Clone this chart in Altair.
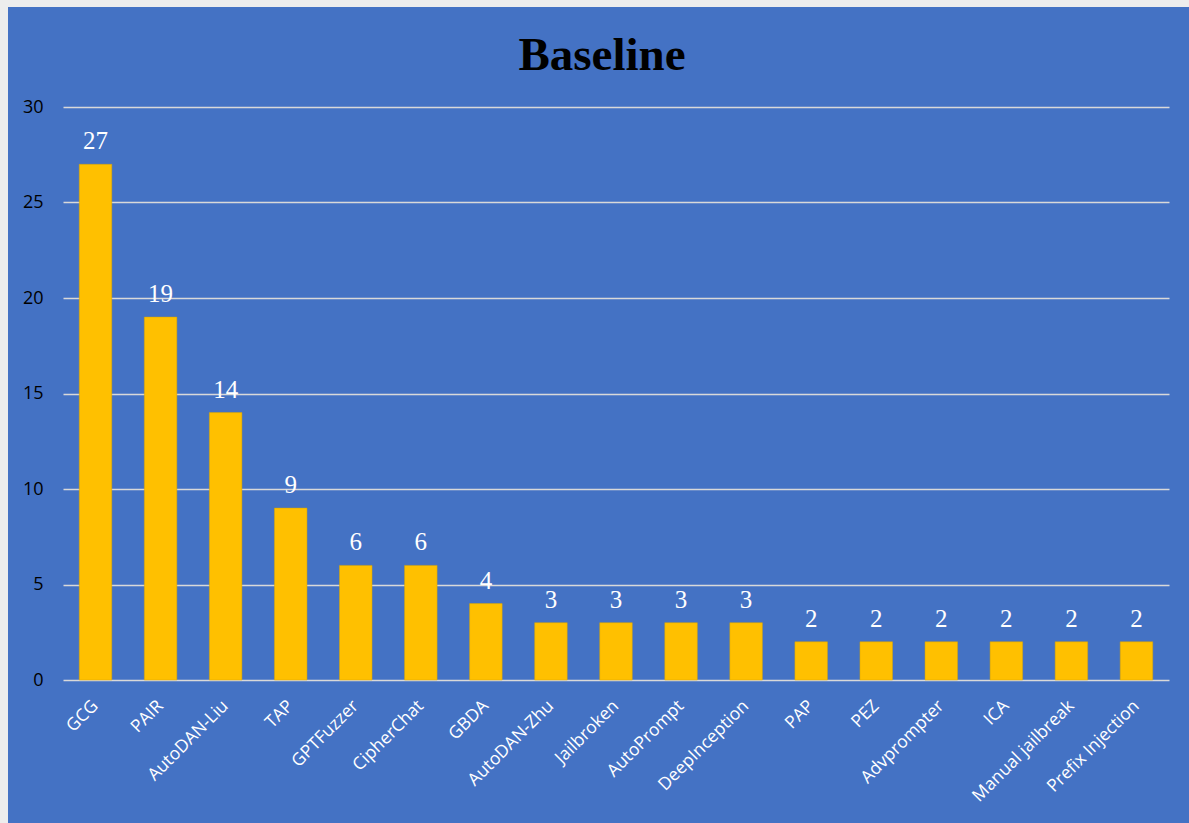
import altair as alt
import pandas as pd

methods = ["GCG", "PAIR", "AutoDAN-Liu", "TAP", "GPTFuzzer", "CipherChat", "GBDA",
           "AutoDAN-Zhu", "Jailbroken", "AutoPrompt", "DeepInception", "PAP", "PEZ",
           "Advprompter", "ICA", "Manual jailbreak", "Prefix Injection"]
counts = [27, 19, 14, 9, 6, 6, 4, 3, 3, 3, 3, 2, 2, 2, 2, 2, 2]

df = pd.DataFrame({"method": methods, "count": counts})

x = alt.X("method:N", sort=methods, title=None,
          scale=alt.Scale(paddingInner=0.5, paddingOuter=0.25),
          axis=alt.Axis(labelAngle=-45, labelColor="white", labelFont="Open Sans",
                        labelFontSize=17.5, ticks=False, domain=False, labelPadding=23,
                        labelAlign="right", labelBaseline="middle"))
y = alt.Y("count:Q", title=None,
          scale=alt.Scale(domain=[0, 30], nice=False),
          axis=alt.Axis(values=[0, 5, 10, 15, 20, 25, 30], labelColor="black",
                        labelFont="Open Sans", labelFontSize=18, ticks=False,
                        domain=False, labelPadding=20, gridColor="#D9D9D9",
                        gridWidth=1.5, gridOpacity=1))

border_top = alt.Chart(df).mark_rect(color="#EDEDED").encode(
    x=alt.value(-63), x2=alt.value(1126), y=alt.value(-107), y2=alt.value(-100))
border_left = alt.Chart(df).mark_rect(color="#EDEDED").encode(
    x=alt.value(-63), x2=alt.value(-55), y=alt.value(-107), y2=alt.value(716))
bars = alt.Chart(df).mark_bar(color="#FFC000", stroke="#D9A400", strokeWidth=0.5).encode(x=x, y=y)
labels = alt.Chart(df).mark_text(font="Liberation Serif", fontSize=25, color="white",
                                 baseline="bottom", dy=-10).encode(
    x=alt.X("method:N", sort=methods), y="count:Q", text="count:Q")

chart = alt.layer(border_top, border_left, bars, labels).properties(
    width=1106, height=573,
    background="#4472C4",
    autosize=alt.AutoSizeParams(type="none"),
    padding={"left": 63, "top": 107, "right": 20, "bottom": 143},
    title=alt.TitleParams("Baseline", font="Liberation Serif", fontSize=47,
                          fontWeight="bold", color="black", anchor="middle",
                          offset=-80, dx=-14)
).configure_view(stroke=None)

chart.save("out.html", embed_options={"renderer": "svg", "actions": False})
